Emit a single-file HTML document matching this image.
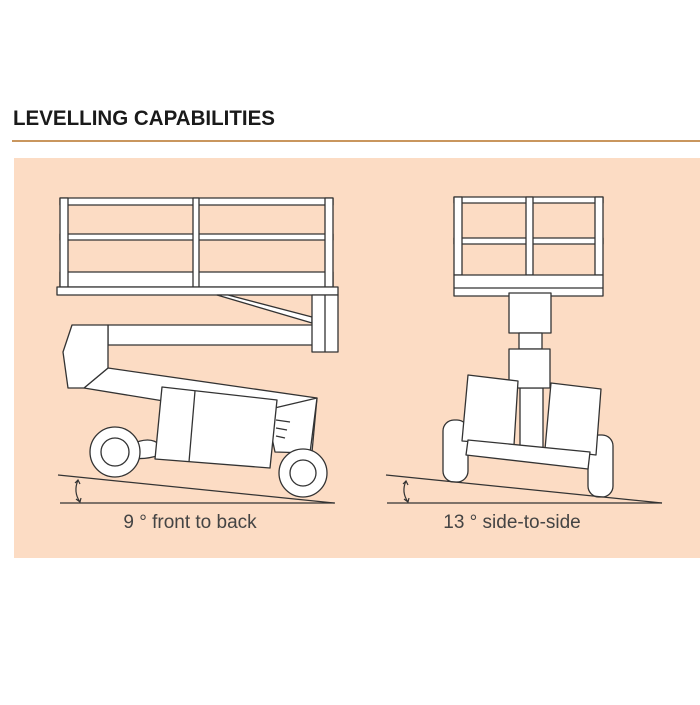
<!DOCTYPE html>
<html><head><style>
body{margin:0;width:700px;height:700px;background:#fff;overflow:hidden}
</style></head><body>
<svg width="700" height="700" viewBox="0 0 700 700" xmlns="http://www.w3.org/2000/svg">
<text x="13" y="125" font-family="Liberation Sans, sans-serif" font-weight="bold" font-size="21" fill="#1a1a1a" textLength="262" lengthAdjust="spacingAndGlyphs">LEVELLING CAPABILITIES</text>
<line x1="12" y1="141" x2="700" y2="141" stroke="#c9965e" stroke-width="2"/>
<rect x="14" y="158" width="686" height="400" fill="#fcdcc4"/>
<g fill="#fff" stroke="#333" stroke-width="1.3" stroke-linejoin="round">
<rect x="60" y="198" width="273" height="7"/>
<rect x="60" y="234" width="273" height="6"/>
<rect x="60" y="272" width="273" height="15"/>
<rect x="60" y="198" width="8" height="89"/>
<rect x="193" y="198" width="6" height="89"/>
<rect x="325" y="198" width="8" height="89"/>
<rect x="57" y="287" width="281" height="8"/>
<polygon points="217,295 228,295 312,317 312,323"/>
<rect x="108" y="325" width="206" height="20"/>
<rect x="312" y="295" width="26" height="57"/>
<line x1="325" y1="295" x2="325" y2="352"/>
<polygon points="108,368 317,398 312,452 275,450 280,420 84,388"/>
<polygon points="72,325 108,325 108,368 84,388 68,388 63,352"/>
<polygon points="266,410 317,398 310,453 275,452"/>
<line x1="276" y1="420" x2="290" y2="422"/><line x1="276" y1="428" x2="287" y2="430"/><line x1="276" y1="436" x2="285" y2="438"/>
<path d="M130,445 Q150,435 160,445 L160,455 Q145,460 132,458 Z"/>
<polygon points="162,387 277,400 270,468 155,459"/>
<line x1="195" y1="391" x2="189" y2="462"/>
<circle cx="115" cy="452" r="25"/><circle cx="115" cy="452" r="14"/>
<circle cx="303" cy="473" r="24"/><circle cx="303" cy="473" r="13"/>
<rect x="454" y="197" width="149" height="6"/>
<rect x="454" y="238" width="149" height="6"/>
<rect x="454" y="197" width="8" height="78"/>
<rect x="526" y="197" width="7" height="78"/>
<rect x="595" y="197" width="8" height="78"/>
<rect x="454" y="275" width="149" height="21"/>
<line x1="454" y1="288" x2="603" y2="288"/>
<rect x="520" y="388" width="23" height="60"/>
<rect x="509" y="293" width="42" height="40"/>
<rect x="519" y="333" width="23" height="16"/>
<rect x="509" y="349" width="41" height="39"/>
<rect x="443" y="420" width="25" height="62" rx="11"/>
<rect x="588" y="435" width="25" height="62" rx="11"/>
<polygon points="468,375 518,381 514,445 462,441"/>
<polygon points="551,383 601,389 596,455 545,449"/>
<polygon points="468,440 590,452 588,469 466,455"/>
</g>
<g fill="none" stroke="#333" stroke-width="1.2">
<line x1="58" y1="475" x2="334" y2="503"/>
<line x1="60" y1="503" x2="335" y2="503"/>
<path d="M78,480 Q73,492 80,502"/>
<path d="M75,483 L78,480 L80,484 M76,499 L80,502 L81,498"/>
<line x1="386" y1="475" x2="662" y2="503"/>
<line x1="387" y1="503" x2="662" y2="503"/>
<path d="M406,481 Q401,492 408,502"/>
<path d="M403,484 L406,481 L408,485 M404,499 L408,502 L409,498"/>
</g>
<text x="190" y="528" text-anchor="middle" font-family="Liberation Sans, sans-serif" font-size="19" fill="#444">9 ° front to back</text>
<text x="512" y="528" text-anchor="middle" font-family="Liberation Sans, sans-serif" font-size="19" fill="#444">13 ° side-to-side</text>
</svg>
</body></html>
